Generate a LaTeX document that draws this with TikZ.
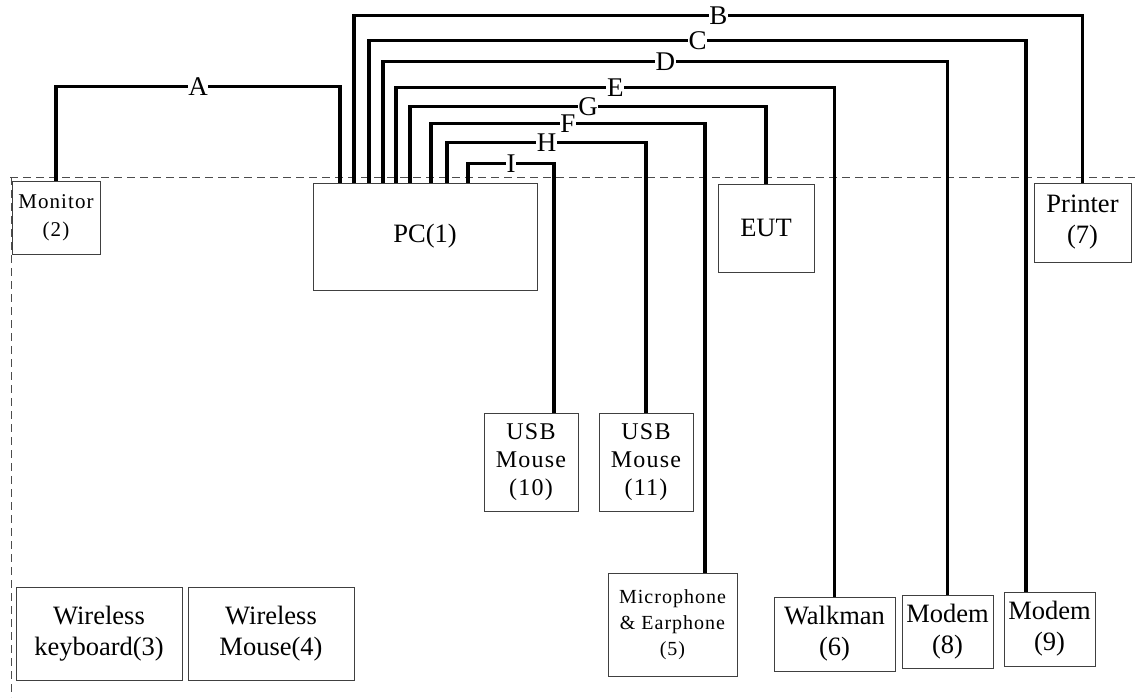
\documentclass[tikz,border=0pt]{standalone}
\usepackage{fontspec}
\setmainfont{Liberation Serif}
\newfontfamily\spacedfont[LetterSpace=5]{Liberation Serif}
\begin{document}
\begin{tikzpicture}[x=1pt,y=-1pt,
  box/.style={draw=black!75,line width=0.8pt,inner sep=0pt,align=center,
    font=\fontsize{26.5}{31}\selectfont},
  smallbox/.style={box,font=\spacedfont\fontsize{21}{28}\selectfont},
  cable/.style={black,line width=3.6pt},
  lbl/.style={fill=white,inner sep=0.6pt,font=\fontsize{27}{27}\selectfont},
  frame/.style={black!70,line width=0.8pt,dash pattern=on 8pt off 5pt}]
\useasboundingbox (0,0) rectangle (1135,697);
\draw [frame] (10,177) -- (1135,177);
\draw [frame] (11,177) -- (11,697);
% boxes
\node [smallbox,minimum width=88,minimum height=73] (mon) at (56,217.5) {Monitor\\(2)};
\node [box,minimum width=224,minimum height=107] (pc) at (425,236.5) {PC(1)};
\node [box,minimum width=96,minimum height=88] (eut) at (766,228) {EUT};
\node [box,minimum width=97,minimum height=79] (prn) at (1082.5,222.5) {Printer\\(7)};
\node [smallbox,font=\spacedfont\fontsize{24}{28}\selectfont,minimum width=94,minimum height=98] (usbA) at (531,462) {USB\\Mouse\\(10)};
\node [smallbox,font=\spacedfont\fontsize{24}{28}\selectfont,minimum width=94,minimum height=98] (usbB) at (646,462) {USB\\Mouse\\(11)};
\node [smallbox,font=\spacedfont\fontsize{20}{26}\selectfont,minimum width=129,minimum height=103] (mic) at (672.5,624.5) {Microphone\\\& Earphone\\(5)};
\node [box,minimum width=166,minimum height=93] (kbd) at (99,633.5) {Wireless\\keyboard(3)};
\node [box,minimum width=166,minimum height=93] (wms) at (271,633.5) {Wireless\\Mouse(4)};
\node [box,minimum width=121,minimum height=74] (wlk) at (834.5,634) {Walkman\\(6)};
\node [box,minimum width=91,minimum height=73] (mdmA) at (947.5,631.5) {Modem\\(8)};
\node [box,minimum width=91,minimum height=74] (mdmB) at (1049.5,629) {Modem\\(9)};
% cables
\draw [cable] ([xshift=-85pt]pc.north) -- ++(0,-96) -| node [lbl,pos=.25] {A} (mon.north);
\draw [cable] ([xshift=-71pt]pc.north) -- ++(0,-167) -| node [lbl,pos=.25] {B} (prn.north);
\draw [cable] ([xshift=-56pt]pc.north) -- ++(0,-142) -| node [lbl,pos=.25] {C} ([xshift=-23.5pt]mdmB.north);
\draw [cable] ([xshift=-42pt]pc.north) -- ++(0,-121) -| node [lbl,pos=.25] {D} (mdmA.north);
\draw [cable] ([xshift=-29pt]pc.north) -- ++(0,-95) -| node [lbl,pos=.25] {E} (wlk.north);
\draw [cable] ([xshift=-15pt]pc.north) -- ++(0,-76) -| node [lbl,pos=.25] {G} (eut.north);
\draw [cable] ([xshift=6pt]pc.north) -- ++(0,-59) -| node [lbl,pos=.25] {F} ([xshift=32.5pt]mic.north);
\draw [cable] ([xshift=22pt]pc.north) -- ++(0,-40) -| node [lbl,pos=.25] {H} (usbB.north);
\draw [cable] ([xshift=43pt]pc.north) -- ++(0,-19) -| node [lbl,pos=.25] {I} ([xshift=23pt]usbA.north);
\end{tikzpicture}
\end{document}
